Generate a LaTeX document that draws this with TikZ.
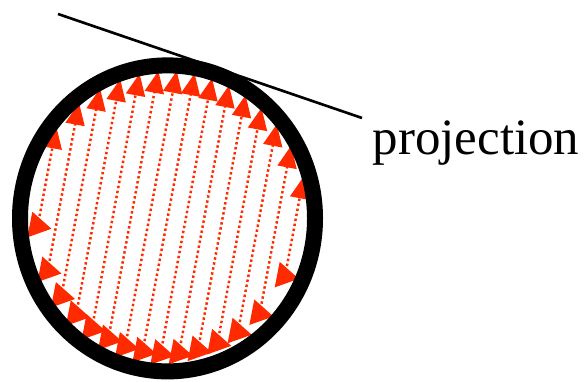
\documentclass[tikz,border=0pt]{standalone}
\usepackage{fontspec}
\setmainfont{Liberation Serif}
\usetikzlibrary{arrows.meta}
\definecolor{raycol}{RGB}{255,42,0}
\tikzset{
  ray/.style={raycol, line width=0.7pt, dash pattern=on 0.7pt off 0.75pt,
    -{Triangle[length=0.22cm,width=0.19cm]}},
  sidetip/.pic={\fill[raycol] (-0.08,0.13) -- (-0.08,-0.13) -- (0.14,0) -- cycle;}
}

\begin{document}
\begin{tikzpicture}
\useasboundingbox (0,0) rectangle (5.87,3.82);
\coordinate (c) at (1.675,1.636);
% parallel rays through the disc
\begin{scope}[shift={(c)}, yscale=1.04]
\foreach \d in {-1.26,-1.08,...,1.27}{
  \pgfmathsetmacro\a{acos(\d/1.42)}
  \pgfmathsetmacro\b{acos(\d/1.3)}
  \coordinate (top) at (-11+\a:1.42);
  \coordinate (bot) at (-11-\b:1.3);
  \draw[ray] (bot) -- (top);
  \pic[rotate=-11] at (bot) {sidetip};
}
\end{scope}
\draw[line width=0.16cm] (c) ellipse (1.475cm and 1.53cm);
\coordinate (p1) at (0.58,3.68);
\coordinate (p2) at (3.62,2.64);
\draw[line width=0.75pt] (p1) -- (p2);
\node[anchor=base west, inner sep=0pt, font=\fontsize{14.5}{17}\selectfont] (proj) at (3.72,2.27) {projection};
\end{tikzpicture}
\end{document}
